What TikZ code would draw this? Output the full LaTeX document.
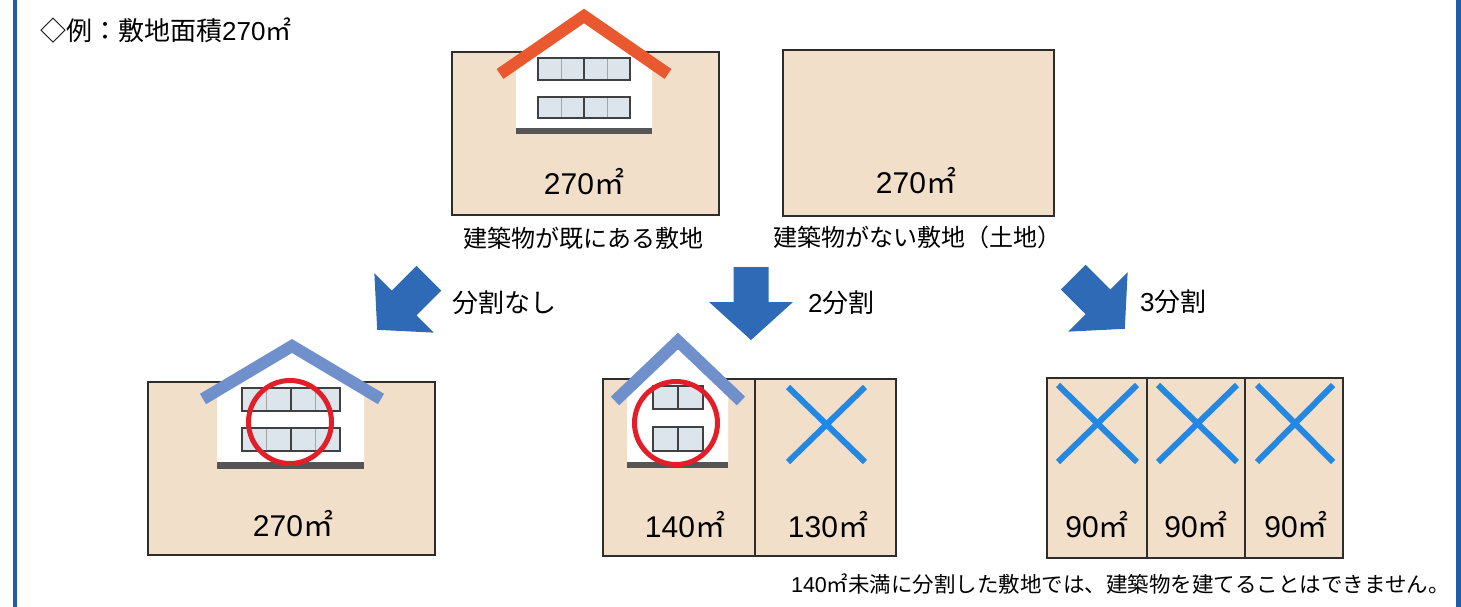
\documentclass[tikz,border=0pt]{standalone}
\usepackage{fontspec}
\setmainfont{Noto Sans CJK JP}
\newfontfamily\numfont{Liberation Sans}
\definecolor{lot}{RGB}{242,223,202}
\definecolor{lotedge}{RGB}{45,45,45}
\definecolor{frameblue}{RGB}{32,92,172}
\definecolor{arrowblue}{RGB}{46,106,182}
\definecolor{roofred}{RGB}{234,88,48}
\definecolor{roofblue}{RGB}{112,144,204}
\definecolor{winfill}{RGB}{220,228,236}
\definecolor{okred}{RGB}{226,30,40}
\definecolor{ngblue}{RGB}{36,136,226}
\definecolor{basegray}{RGB}{85,85,85}

% figures set in a Helvetica-like face
\newcommand\num[1]{{\numfont #1}}

% block arrow centred at (#1,#2), turned by #3 degrees (0 = pointing down)
\newcommand\blockarrow[3]{%
  \begin{scope}[shift={(#1,#2)},rotate=#3]
    \fill[arrowblue] (-17.5,-36.5) -- (17.5,-36.5) -- (17.5,-1.5) -- (42,-1.5)
      -- (0,36.5) -- (-42,-1.5) -- (-17.5,-1.5) -- cycle;
  \end{scope}}

% window band from (#1,#2) to (#3,#4) with four panes
\newcommand\fourpane[4]{%
  \fill[winfill] (#1,#2) rectangle (#3,#4);
  \draw[gray!70, line width=0.8] ({#1+(#3-#1)/4},#2) -- ({#1+(#3-#1)/4},#4)
    ({#1+3*(#3-#1)/4},#2) -- ({#1+3*(#3-#1)/4},#4);
  \draw[black!75, line width=2] ({(#1+#3)/2},#2) -- ({(#1+#3)/2},#4);
  \draw[black!75, line width=1.6] (#1,#2) rectangle (#3,#4);}

% window band from (#1,#2) to (#3,#4) with two panes
\newcommand\twopane[4]{%
  \fill[winfill] (#1,#2) rectangle (#3,#4);
  \draw[black!75, line width=1.4] ({(#1+#3)/2},#2) -- ({(#1+#3)/2},#4);
  \draw[black!75, line width=1.6] (#1,#2) rectangle (#3,#4);}

\begin{document}
\begin{tikzpicture}[x=1pt,y=-1pt,
  lotbox/.style={fill=lot, draw=lotedge, line width=1.8},
  roofline/.style={line width=12, line join=miter, line cap=butt},
  okring/.style={draw=okred, line width=5},
  ngmark/.style={draw=ngblue, line width=6},
  lbl/.style={font=\fontsize{24}{28}\selectfont, inner sep=0, anchor=base},
  lbllarge/.style={font=\fontsize{26}{30}\selectfont, inner sep=0, anchor=base west},
  area/.style={font=\fontsize{30}{34}\selectfont, inner sep=0, anchor=base},
  note/.style={font=\fontsize{21.5}{25}\selectfont, inner sep=0, anchor=base east}]

\useasboundingbox (0,0) rectangle (1461,607);
\fill[white] (0,0) rectangle (1461,607);

% side rules of the frame
\draw[frameblue, line width=4.5] (15,0) -- (15,607);
\draw[frameblue, line width=5] (1458,0) -- (1458,607);

% heading
\node[lbllarge] (title) at (40,41) {◇例：敷地面積\num{270}㎡};

% ---- upper row: lot with a building ----
\draw[lotbox] (452,52) rectangle (719,215);
\fill[white] (516,131) -- (516,61) -- (584,15) -- (652,61) -- (652,131) -- cycle;
\fill[basegray] (516,128) rectangle (652,134);
\fourpane{538}{58}{630}{80}
\fourpane{538}{97}{630}{118}
\draw[roofline, roofred] (500,74) -- (584,16) -- (668,74);
\node[area] (a1) at (584,194) {\num{270}㎡};
\node[lbl] (c1) at (583,247) {建築物が既にある敷地};

% ---- upper row: vacant lot ----
\draw[lotbox] (783,50) rectangle (1054,216);
\node[area] (a2) at (916,193) {\num{270}㎡};
\node[lbl] (c2) at (917,246) {建築物がない敷地（土地）};

% ---- arrows ----
\blockarrow{403}{304}{-45}
\blockarrow{751}{303.5}{0}
\blockarrow{1099}{303}{45}
\node[lbllarge] (s1) at (452,312) {分割なし};
\node[lbllarge] (s2) at (808,312) {\num{2}分割};
\node[lbllarge] (s3) at (1140,311) {\num{3}分割};

% ---- lower row: not divided ----
\draw[lotbox] (148,382) rectangle (435,555);
\fill[white] (217,466) -- (217,392) -- (292,346) -- (364,392) -- (364,466) -- cycle;
\fill[basegray] (217,462) rectangle (364,469);
\fourpane{242}{388}{340}{411}
\fourpane{242}{428}{340}{451}
\draw[roofline, roofblue] (203,399) -- (292,346) -- (381,399);
\draw[okring] (290,422) circle[radius=41.5];
\node[area] (a3) at (293,536) {\num{270}㎡};

% ---- lower row: divided in two ----
\draw[lotbox] (603,379) rectangle (896,556);
\draw[lotedge, line width=1.8] (755,379) -- (755,556);
\fill[white] (627,466) -- (627,390) -- (678,341) -- (728,390) -- (728,466) -- cycle;
\fill[basegray] (627,462) rectangle (728,468);
\twopane{653}{386}{703}{409}
\twopane{653}{427}{703}{451}
\draw[roofline, roofblue] (615,401) -- (678,341) -- (741,401);
\draw[okring] (676,423) circle[radius=41.5];
\draw[ngmark] (788,387) -- (865,462) (788,462) -- (865,387);
\node[area] (a4) at (685,537) {\num{140}㎡};
\node[area] (a5) at (828,537) {\num{130}㎡};

% ---- lower row: divided in three ----
\draw[lotbox] (1047,378) rectangle (1343,558);
\draw[lotedge, line width=1.8] (1147,378) -- (1147,558) (1245,378) -- (1245,558);
\draw[ngmark] (1058,385) -- (1137,462) (1058,462) -- (1137,385);
\draw[ngmark] (1158,385) -- (1237,462) (1158,462) -- (1237,385);
\draw[ngmark] (1257,385) -- (1333,462) (1257,462) -- (1333,385);
\node[area] (a6) at (1097,537) {\num{90}㎡};
\node[area] (a7) at (1196,537) {\num{90}㎡};
\node[area] (a8) at (1296,537) {\num{90}㎡};

% footnote
\node[note] (fn) at (1450,592) {\num{140}㎡未満に分割した敷地では、建築物を建てることはできません。};
\end{tikzpicture}
\end{document}
